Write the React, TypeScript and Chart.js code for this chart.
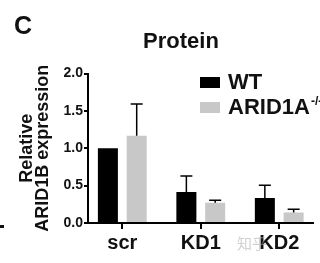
import React, { useEffect, useRef } from 'react';
import { Chart, registerables } from 'chart.js';

Chart.register(...registerables);

// ---- data ----
const categories = ['scr', 'KD1', 'KD2'];
const seriesNames = ['WT', 'ARID1A'];
const seriesSuperscript = ['', '-/-'];
const wtValues = [1.0, 0.415, 0.335];
const wtErrors = [0, 0.215, 0.17];
const aridValues = [1.166, 0.272, 0.14];
const aridErrors = [0.425, 0.032, 0.045];
const yTickStep = 0.5;
const yMin = 0;
const yMax = 2;
const xMin = -0.437;
const xMax = 2.43;
const titleText = 'Protein';
const panelLabel = 'C';
const yTitleLines = ['Relative', 'ARID1B expression'];
const watermarkText = '知乎';

const FONT = '"Liberation Sans", Arial, Helvetica, sans-serif';
const COLORS = ['#000000', '#c8c8c8'];

const errorBarPlugin = {
  id: 'errorBars',
  afterDatasetsDraw(chart: any) {
    const ctx = chart.ctx;
    const yScale = chart.scales.y;
    chart.data.datasets.forEach((ds: any, di: number) => {
      const meta = chart.getDatasetMeta(di);
      meta.data.forEach((bar: any, i: number) => {
        const e = ds.errors[i];
        if (!e) return;
        const v = ds.data[i].y;
        const top = yScale.getPixelForValue(v + e);
        const base = yScale.getPixelForValue(v);
        ctx.save();
        ctx.strokeStyle = '#000';
        ctx.lineWidth = 1.5;
        ctx.beginPath();
        ctx.moveTo(bar.x, base);
        ctx.lineTo(bar.x, top);
        ctx.moveTo(bar.x - 6, top);
        ctx.lineTo(bar.x + 6, top);
        ctx.stroke();
        ctx.restore();
      });
    });
  },
};

const decorPlugin = {
  id: 'decor',
  afterDraw(chart: any) {
    const ctx = chart.ctx;
    ctx.save();
    ctx.fillStyle = '#111';
    // panel label
    ctx.font = `bold 25px ${FONT}`;
    ctx.textAlign = 'left';
    ctx.textBaseline = 'alphabetic';
    ctx.fillText(panelLabel, 14, 34);
    // title
    ctx.font = `bold 22px ${FONT}`;
    ctx.textAlign = 'center';
    ctx.fillText(titleText, 181, 48);
    // y title
    ctx.font = `bold 18px ${FONT}`;
    const yCenter = (chart.chartArea.top + chart.chartArea.bottom) / 2;
    const xs = [32, 48];
    yTitleLines.forEach((line, i) => {
      ctx.save();
      ctx.translate(xs[i], yCenter);
      ctx.rotate(-Math.PI / 2);
      ctx.textAlign = 'center';
      ctx.fillText(line, 0, 0);
      ctx.restore();
    });
    // legend
    const lx = 200;
    const rows = [77, 102];
    seriesNames.forEach((name, i) => {
      ctx.fillStyle = COLORS[i];
      ctx.fillRect(lx, rows[i], 20, 11);
      ctx.fillStyle = '#111';
      ctx.font = `bold 22px ${FONT}`;
      ctx.textAlign = 'left';
      ctx.fillText(name, 228, rows[i] + 12);
      if (seriesSuperscript[i]) {
        const w = ctx.measureText(name).width;
        ctx.font = `bold 12px ${FONT}`;
        ctx.fillText(seriesSuperscript[i], 228 + w + 1, rows[i] + 3);
      }
    });
    // neighbour dash at left edge
    ctx.fillStyle = '#111';
    ctx.fillRect(0, 225, 4, 3);
    // watermark
    ctx.fillStyle = 'rgba(170,170,170,0.55)';
    ctx.font = `15px "Noto Sans CJK SC", sans-serif`;
    ctx.textAlign = 'left';
    ctx.fillText(watermarkText, 237, 249);
    ctx.restore();
  },
};

export default function App() {
  const ref = useRef<HTMLCanvasElement>(null);
  useEffect(() => {
    if (!ref.current) return;
    const chart = new Chart(ref.current, {
      type: 'bar',
      data: {
        datasets: [
          {
            label: seriesNames[0],
            data: wtValues.map((v, i) => ({ x: i, y: v })),
            errors: wtErrors,
            backgroundColor: COLORS[0],
            borderWidth: 0,
          } as any,
          {
            label: seriesNames[1],
            data: aridValues.map((v, i) => ({ x: i, y: v })),
            errors: aridErrors,
            backgroundColor: COLORS[1],
            borderWidth: 0,
          } as any,
        ],
      },
      options: {
        animation: false,
        responsive: false,
        devicePixelRatio: 1,
        layout: { padding: { top: 73.5, right: 7, bottom: 0, left: 0 } },
        datasets: { bar: { categoryPercentage: 0.734, barPercentage: 0.695 } },
        plugins: { legend: { display: false }, tooltip: { enabled: false }, title: { display: false } },
        scales: {
          x: {
            type: 'linear',
            offset: false,
            min: xMin,
            max: xMax,
            bounds: 'data',
            afterBuildTicks: (s: any) => {
              s.ticks = categories.map((_, i) => ({ value: i }));
            },
            afterFit: (s: any) => {
              s.height = 40;
              s.paddingLeft = 0;
              s.paddingRight = 0;
            },
            ticks: {
              callback: (_v: any, i: number) => categories[i] ?? '',
              font: { family: FONT, size: 20, weight: 'bold' },
              color: '#111',
              padding: 2,
              autoSkip: false,
              maxRotation: 0,
            },
            grid: { offset: false, drawOnChartArea: false, drawTicks: true, tickLength: 6, color: '#000', lineWidth: 2 },
            border: { color: '#000', width: 2 },
          } as any,
          y: {
            min: yMin,
            max: yMax,
            afterFit: (s: any) => {
              s.width = 88;
              s.paddingTop = 0;
              s.paddingBottom = 0;
            },
            ticks: {
              stepSize: yTickStep,
              callback: (v: any) => Number(v).toFixed(1),
              font: { family: FONT, size: 14, weight: 'bold' },
              color: '#111',
              padding: 1,
            },
            grid: { drawOnChartArea: false, drawTicks: true, tickLength: 4, color: '#000', lineWidth: 2 },
            border: { color: '#000', width: 2 },
          } as any,
        },
      } as any,
      plugins: [errorBarPlugin, decorPlugin],
    });
    return () => chart.destroy();
  }, []);
  return (
    <div style={{ position: 'absolute', left: 0, top: 0, width: 320, height: 263, background: '#fff' }}>
      <canvas ref={ref} width={320} height={263} style={{ display: 'block' }} />
    </div>
  );
}
